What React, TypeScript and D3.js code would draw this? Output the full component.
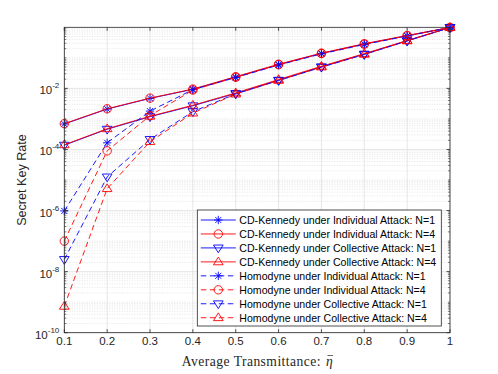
import React from "react";
import * as d3 from "d3";

const W = 498;
const H = 374;
const MARGIN = { top: 27.3, right: 48, bottom: 41.3, left: 64.3 };

// average transmittance
const eta = [0.1, 0.2, 0.3, 0.4, 0.5, 0.6, 0.7, 0.8, 0.9, 1.0];

// secret key rates
const cdIndN1 = [6.8e-4, 2.1e-3, 4.7e-3, 9.3e-3, 2.35e-2, 6.0e-2, 0.14, 0.284, 0.53, 0.985];
const cdIndN4 = [7.0e-4, 2.15e-3, 4.8e-3, 9.5e-3, 2.42e-2, 6.2e-2, 0.143, 0.29, 0.54, 0.985];
const cdColN1 = [1.38e-4, 4.6e-4, 1.18e-3, 2.7e-3, 6.8e-3, 1.85e-2, 5.1e-2, 0.133, 0.362, 0.985];
const cdColN4 = [1.42e-4, 4.75e-4, 1.22e-3, 2.8e-3, 7.1e-3, 1.95e-2, 5.3e-2, 0.137, 0.37, 0.985];
const homIndN1 = [9.7e-7, 1.65e-4, 1.8e-3, 9.1e-3, 2.26e-2, 5.8e-2, 0.135, 0.273, 0.518, 0.98];
const homIndN4 = [1.0e-7, 9.0e-5, 1.28e-3, 8.8e-3, 2.3e-2, 5.95e-2, 0.138, 0.279, 0.525, 0.98];
const homColN1 = [2.5e-8, 1.26e-5, 2.13e-4, 1.73e-3, 6.6e-3, 1.8e-2, 4.92e-2, 0.128, 0.356, 0.98];
const homColN4 = [7.3e-10, 5.2e-6, 1.8e-4, 1.55e-3, 6.5e-3, 1.82e-2, 5.0e-2, 0.13, 0.358, 0.98];

const legendLabels = [
  "CD-Kennedy under Individual Attack: N=1",
  "CD-Kennedy under Individual Attack: N=4",
  "CD-Kennedy under Collective Attack: N=1",
  "CD-Kennedy under Collective Attack: N=4",
  "Homodyne under Individual Attack: N=1",
  "Homodyne under Individual Attack: N=4",
  "Homodyne under Collective Attack: N=1",
  "Homodyne under Collective Attack: N=4",
];

const xTicks = [0.1, 0.2, 0.3, 0.4, 0.5, 0.6, 0.7, 0.8, 0.9, 1];
const yTickExps = [-10, -8, -6, -4, -2];

const BLUE = "#0000ff";
const RED = "#ff0000";

type Marker = "star" | "circle" | "down" | "up";

const series: { values: number[]; color: string; dashed: boolean; marker: Marker }[] = [
  { values: cdIndN1, color: BLUE, dashed: false, marker: "star" },
  { values: cdIndN4, color: RED, dashed: false, marker: "circle" },
  { values: cdColN1, color: BLUE, dashed: false, marker: "down" },
  { values: cdColN4, color: RED, dashed: false, marker: "up" },
  { values: homIndN1, color: BLUE, dashed: true, marker: "star" },
  { values: homIndN4, color: RED, dashed: true, marker: "circle" },
  { values: homColN1, color: BLUE, dashed: true, marker: "down" },
  { values: homColN4, color: RED, dashed: true, marker: "up" },
];

const MarkerShape = ({ kind, x, y, color }: { kind: Marker; x: number; y: number; color: string }) => {
  const r = 4.2;
  if (kind === "circle") {
    return <circle cx={x} cy={y} r={r} fill="none" stroke={color} strokeWidth={0.9} />;
  }
  if (kind === "star") {
    const d = r * 0.72;
    return (
      <path
        d={`M${x - r},${y}H${x + r}M${x},${y - r}V${y + r}M${x - d},${y - d}L${x + d},${y + d}M${x - d},${y + d}L${x + d},${y - d}`}
        stroke={color}
        strokeWidth={0.9}
        fill="none"
      />
    );
  }
  const s = r * 1.15;
  if (kind === "down") {
    return (
      <path
        d={`M${x - s},${y - s * 0.6}L${x + s},${y - s * 0.6}L${x},${y + s}Z`}
        fill="none"
        stroke={color}
        strokeWidth={0.9}
      />
    );
  }
  return (
    <path
      d={`M${x - s},${y + s * 0.6}L${x + s},${y + s * 0.6}L${x},${y - s}Z`}
      fill="none"
      stroke={color}
      strokeWidth={0.9}
    />
  );
};

const App = () => {
  const boundsWidth = W - MARGIN.left - MARGIN.right;
  const boundsHeight = H - MARGIN.top - MARGIN.bottom;
  const x0 = MARGIN.left;
  const y0 = MARGIN.top;
  const x1 = x0 + boundsWidth;
  const y1 = y0 + boundsHeight;

  const xScale = d3.scaleLinear().domain([0.1, 1]).range([x0, x1]);
  const yScale = d3.scaleLog().domain([1e-10, 1]).range([y1, y0]);

  const line = d3
    .line<number>()
    .x((_, i) => xScale(eta[i]))
    .y((d) => yScale(d));

  // minor grid values 2..9 x 10^k and odd decades
  const minorVals: number[] = [];
  for (let k = -10; k < 0; k++) {
    for (let m = 2; m <= 9; m++) minorVals.push(m * Math.pow(10, k));
    if (k % 2 !== 0) minorVals.push(Math.pow(10, k));
  }

  const axisColor = "#262626";
  const tickFont = "'Liberation Sans', Arial, Helvetica, sans-serif";
  const serifFont = "'Liberation Serif', 'DejaVu Serif', serif";

  const legX = 197.3;
  const legY = 210;
  const legW = 244;
  const legH = 116;
  const rowH = 13.96;

  // x label split point (text ends here, eta starts after)
  const labelEnd = 321;

  return (
    <svg width={W} height={H} style={{ position: "absolute", left: 0, top: 0, background: "#fff" }}>
      <rect x={x0} y={y0} width={boundsWidth} height={boundsHeight} fill="#fff" />
      {/* grid */}
      <g>
        {minorVals.map((v, i) => (
          <line
            key={"mg" + i}
            x1={x0}
            x2={x1}
            y1={yScale(v)}
            y2={yScale(v)}
            stroke="#d4d4d4"
            strokeWidth={0.6}
            strokeDasharray="1,1.5"
          />
        ))}
        {yTickExps.map((e) => (
          <line key={"yg" + e} x1={x0} x2={x1} y1={yScale(Math.pow(10, e))} y2={yScale(Math.pow(10, e))} stroke="#e0e0e0" strokeWidth={0.8} />
        ))}
        {xTicks.map((t) => (
          <line key={"xg" + t} x1={xScale(t)} x2={xScale(t)} y1={y0} y2={y1} stroke="#e0e0e0" strokeWidth={0.8} />
        ))}
      </g>

      {/* series */}
      {series.map((s, si) => (
        <g key={"s" + si}>
          <path
            d={line(s.values) || ""}
            fill="none"
            stroke={s.color}
            strokeWidth={0.9}
            strokeDasharray={s.dashed ? "5.5,3.5" : undefined}
          />
          {s.values.map((v, i) => (
            <MarkerShape key={i} kind={s.marker} x={xScale(eta[i])} y={yScale(v)} color={s.color} />
          ))}
        </g>
      ))}

      {/* axes box and ticks */}
      <rect x={x0} y={y0} width={boundsWidth} height={boundsHeight} fill="none" stroke={axisColor} strokeWidth={0.8} />
      {xTicks.map((t) => (
        <g key={"xt" + t}>
          <line x1={xScale(t)} x2={xScale(t)} y1={y1} y2={y1 - 3.5} stroke={axisColor} strokeWidth={0.8} />
          <line x1={xScale(t)} x2={xScale(t)} y1={y0} y2={y0 + 3.5} stroke={axisColor} strokeWidth={0.8} />
          <text x={xScale(t)} y={y1 + 12.5} textAnchor="middle" fontFamily={tickFont} fontSize={11.5} fill={axisColor}>
            {d3.format("")(t)}
          </text>
        </g>
      ))}
      {minorVals.map((v, i) => (
        <g key={"ymt" + i}>
          <line x1={x0} x2={x0 + 2} y1={yScale(v)} y2={yScale(v)} stroke={axisColor} strokeWidth={0.6} />
          <line x1={x1} x2={x1 - 2} y1={yScale(v)} y2={yScale(v)} stroke={axisColor} strokeWidth={0.6} />
        </g>
      ))}
      {yTickExps.map((e) => {
        const y = yScale(Math.pow(10, e));
        return (
          <g key={"yt" + e}>
            <line x1={x0} x2={x0 + 3.5} y1={y} y2={y} stroke={axisColor} strokeWidth={0.8} />
            <line x1={x1} x2={x1 - 3.5} y1={y} y2={y} stroke={axisColor} strokeWidth={0.8} />
            <text x={x0 - 5} y={y + 6} textAnchor="end" fontFamily={tickFont} fontSize={11.5} fill={axisColor}>
              10
              <tspan fontSize={8} dy={-6}>
                {e}
              </tspan>
            </text>
          </g>
        );
      })}

      {/* axis labels */}
      <text
        x={labelEnd}
        y={365.5}
        textAnchor="end"
        fontFamily={serifFont}
        fontSize={13.6}
        letterSpacing={0.45}
        fill={axisColor}
      >
        Average Transmittance:
      </text>
      <text x={labelEnd + 5} y={365.5} fontFamily={serifFont} fontStyle="italic" fontSize={13.6} fill={axisColor}>
        η
      </text>
      <line x1={labelEnd + 6.5} x2={labelEnd + 12} y1={355.5} y2={355.5} stroke={axisColor} strokeWidth={0.7} />
      <text
        transform={`translate(26,${(y0 + y1) / 2}) rotate(-90)`}
        textAnchor="middle"
        fontFamily={tickFont}
        fontSize={12.6}
        fill={axisColor}
      >
        Secret Key Rate
      </text>

      {/* legend */}
      <rect x={legX} y={legY} width={legW} height={legH} fill="#fff" stroke={axisColor} strokeWidth={0.8} />
      {series.map((s, i) => {
        const cy = legY + 10 + i * rowH;
        return (
          <g key={"lg" + i}>
            <line
              x1={legX + 3.5}
              x2={legX + 38.5}
              y1={cy}
              y2={cy}
              stroke={s.color}
              strokeWidth={0.9}
              strokeDasharray={s.dashed ? "5.5,3.5" : undefined}
            />
            <MarkerShape kind={s.marker} x={legX + 21} y={cy} color={s.color} />
            <text x={legX + 42} y={cy + 3.8} fontFamily={tickFont} fontSize={10.6} fill="#000">
              {legendLabels[i]}
            </text>
          </g>
        );
      })}
    </svg>
  );
};

export default App;
